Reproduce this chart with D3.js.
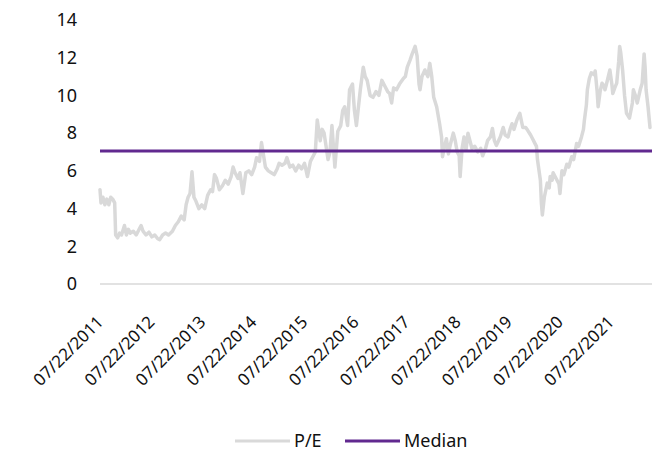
<!DOCTYPE html>
<html>
<head>
<meta charset="utf-8">
<script src="https://cdn.jsdelivr.net/npm/d3@7"></script>
<style>
  html, body { margin: 0; padding: 0; background: #fff; }
  svg { display: block; font-family: "Noto Sans", "Open Sans", sans-serif; }
</style>
</head>
<body>
<svg id="chart" width="652" height="452"></svg>
<script>
// ---------------- data ----------------
const startDate = "07/22/2011";
// weeks after the start date
const weekOffsets = [
  0,1,3,5,7,9,11,13,15,16,18,20,22,25,27,29,31,34,37,40,42,44,47,50,53,56,59,61,64,67,70,74,77,80,83,86,88,90,92,94,96,98,101,104,107,110,113,115,117,119,122,125,128,131,134,136,138,141,143,
  146,149,152,155,158,160,163,165,169,172,175,178,181,183,186,189,191,194,197,200,203,206,209,212,215,218,220,222,225,227,229,231,233,235,237,240,243,246,248,250,253,255,258,260,262,266,269,271,273,276,279,282,285,
  288,291,294,296,298,300,303,306,310,312,314,317,319,322,324,326,327,329,332,335,337,339,341,344,347,349,350,352,354,356,358,361,363,365,367,368,370,372,374,376,378,380,383,386,389,391,394,396,399,401,403,405,409,412,414,417,419,421,423,426,429,
  432,435,437,440,442,444,446,447,450,451,452,454,457,459,460,462,463,465,467,469,470,472,474,477,479,482,484,487,489,492,494,495,497,498,500,502,505,506,508,509,511,513,515,516,518,521,523,524,526,528,530,531,532,534,536,538,541,544,545,547,549,552,554,556,557,558,560,562
];
const peValues = [
  5.0,4.3,4.6,4.2,4.5,4.2,4.6,4.5,4.3,2.6,2.45,2.7,2.6,3.1,2.6,2.9,2.7,2.8,2.6,2.9,3.1,2.8,2.6,2.75,2.5,2.6,2.4,2.35,2.6,2.7,2.6,2.8,3.1,3.3,3.6,3.4,4.2,4.6,4.8,5.95,4.6,4.4,4.0,4.2,4.0,4.7,5.0,4.9,5.8,5.6,5.0,5.2,5.5,5.3,5.7,6.2,5.9,5.6,5.9,
  4.8,5.9,6.0,5.8,6.2,6.7,6.5,7.5,6.2,6.0,5.9,5.8,6.1,6.4,6.3,6.4,6.7,6.2,6.3,6.0,6.3,6.1,6.4,5.7,6.5,6.8,7.0,8.7,7.6,8.2,8.0,7.3,6.6,7.0,8.4,6.2,8.1,8.4,9.2,9.4,8.4,10.3,10.6,9.2,8.4,10.3,11.5,11.0,10.8,10.0,9.9,10.2,10.0,
  10.8,10.5,10.2,10.1,9.6,10.4,10.3,10.6,10.9,11.0,11.5,11.9,12.2,12.6,12.1,10.6,10.3,11.0,11.35,11.0,11.7,11.0,9.9,9.4,8.5,7.8,6.75,7.3,7.7,6.9,7.4,8.0,7.6,7.0,6.8,5.7,7.2,7.8,7.1,8.0,7.6,7.2,7.3,7.0,7.2,6.8,7.2,7.6,7.8,8.25,7.6,7.35,7.8,8.3,7.9,7.8,8.2,8.5,8.2,8.7,9.05,
  8.3,8.3,8.15,7.9,7.7,7.5,7.3,6.6,5.5,4.3,3.66,4.6,5.35,5.1,5.7,5.5,5.9,5.7,5.5,5.3,4.8,6.0,5.8,6.35,6.2,6.75,6.6,7.45,7.3,7.8,8.2,8.7,9.5,10.3,10.9,11.2,11.1,11.3,10.2,9.4,10.2,10.65,10.5,10.3,10.7,11.35,10.6,10.1,10.4,10.65,11.8,12.6,12.3,11.35,10.0,9.05,8.8,9.6,10.3,10.0,9.6,10.3,10.65,12.2,11.5,10.3,9.4,8.3
];
const medianValue = 7.05;
const yTicks = [0, 2, 4, 6, 8, 10, 12, 14];
const xTickLabels = ["07/22/2011","07/22/2012","07/22/2013","07/22/2014","07/22/2015","07/22/2016","07/22/2017","07/22/2018","07/22/2019","07/22/2020","07/22/2021"];
const seriesNames = ["P/E", "Median"];

// ---------------- drawing ----------------
const parse = d3.timeParse("%m/%d/%Y");
const fmt = d3.timeFormat("%m/%d/%Y");
const t0 = parse(startDate);
const data = weekOffsets.map((w, i) => ({ date: d3.timeWeek.offset(t0, w), value: peValues[i] }));

const svg = d3.select("#chart");
const plotLeft = 100, plotRight = 650, plotTop = 20, plotBottom = 284;

const x = d3.scaleTime()
  .domain(d3.extent(data, d => d.date))
  .range([plotLeft, plotRight]);
const y = d3.scaleLinear().domain([0, 14]).range([plotBottom, plotTop]);

const GRAY = "#d9d9d9";
const PURPLE = "#61298f";

// baseline
svg.append("line")
  .attr("x1", plotLeft).attr("x2", 652)
  .attr("y1", y(0)).attr("y2", y(0))
  .attr("stroke", GRAY).attr("stroke-width", 1.3);

// y axis labels
const yAxis = svg.append("g")
  .attr("transform", `translate(${plotLeft},0)`)
  .call(d3.axisLeft(y).tickValues(yTicks).tickSize(0).tickPadding(23).tickFormat(d3.format("d")));
yAxis.select(".domain").remove();
yAxis.selectAll("text").attr("font-size", 18).attr("fill", "#111").attr("font-family", "Noto Sans");

// x axis labels
const xAxis = svg.append("g")
  .attr("transform", `translate(0,${y(0)})`)
  .call(d3.axisBottom(x).tickValues(xTickLabels.map(parse)).tickSize(0).tickFormat(fmt));
xAxis.select(".domain").remove();
xAxis.selectAll("text")
  .attr("x", null).attr("y", null).attr("dy", null)
  .attr("text-anchor", "end")
  .attr("transform", "translate(4,39) rotate(-45)")
  .attr("font-size", 17).attr("fill", "#111").attr("font-family", "Noto Sans");

// P/E line
svg.append("path")
  .datum(data)
  .attr("fill", "none")
  .attr("stroke", GRAY)
  .attr("stroke-width", 3.5)
  .attr("stroke-linejoin", "round")
  .attr("stroke-linecap", "round")
  .attr("d", d3.line().x(d => x(d.date)).y(d => y(d.value)));

// Median line
svg.append("line")
  .attr("x1", plotLeft).attr("x2", 652)
  .attr("y1", y(medianValue)).attr("y2", y(medianValue))
  .attr("stroke", PURPLE).attr("stroke-width", 3);

// legend
const legend = svg.append("g").attr("transform", "translate(0,441)");
const legendItems = [
  { name: seriesNames[0], color: GRAY, x0: 235 },
  { name: seriesNames[1], color: PURPLE, x0: 345 }
];
legendItems.forEach(it => {
  legend.append("line")
    .attr("x1", it.x0).attr("x2", it.x0 + 55)
    .attr("y1", 0).attr("y2", 0)
    .attr("stroke", it.color).attr("stroke-width", 3);
  legend.append("text")
    .attr("x", it.x0 + 59).attr("y", 0).attr("dy", "0.36em")
    .attr("font-size", 18).attr("fill", "#111")
    .text(it.name);
});
</script>
</body>
</html>
